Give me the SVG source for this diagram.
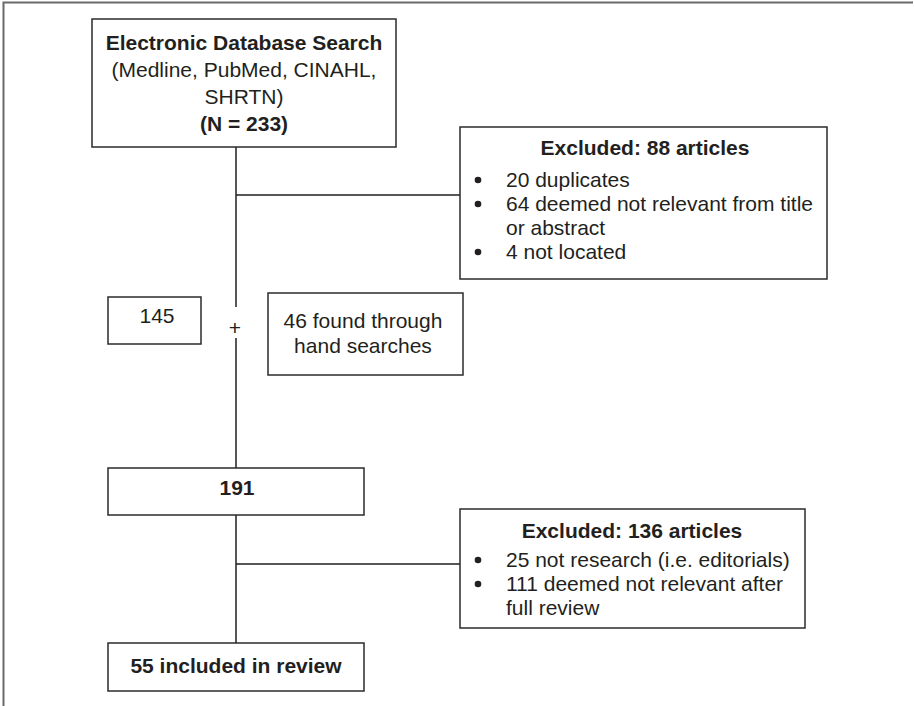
<svg xmlns="http://www.w3.org/2000/svg" width="914" height="706" viewBox="0 0 914 706">
<style>
.box{fill:#fff;stroke:#2b2b2b;stroke-width:1.5}
.ln{fill:none;stroke:#231f20;stroke-width:1.5}
.frame{fill:none;stroke:#6a6a6a;stroke-width:2}
.dot{fill:#231f20}
text{font-family:"Liberation Sans",Arial,sans-serif;font-size:21px;fill:#231f20}
.b{font-weight:bold}
.c{text-anchor:middle}
</style>
<rect width="914" height="706" fill="#fff"/>
<path class="frame" d="M3.5,706 V2.5 H913"/>
<g id="connectors">
<path class="ln" d="M236,147 V307 M236,338 V468 M236,195 H460 M236,515 V643 M236,564 H460"/>
<text class="c" x="235" y="335">+</text>
</g>
<g id="search">
<rect class="box" x="92" y="19" width="304" height="128"/>
<text class="c b" x="244" y="50">Electronic Database Search</text>
<text class="c" x="244" y="77">(Medline, PubMed, CINAHL,</text>
<text class="c" x="244" y="104">SHRTN)</text>
<text class="c b" x="244" y="131">(N = 233)</text>
</g>
<g id="excluded1">
<rect class="box" x="460" y="127" width="367" height="152"/>
<text class="c b" x="645" y="155">Excluded: 88 articles</text>
<circle class="dot" cx="478" cy="180" r="3.3"/><text x="506" y="187">20 duplicates</text>
<circle class="dot" cx="478" cy="204" r="3.3"/><text x="506" y="211">64 deemed not relevant from title</text>
<text x="506" y="235">or abstract</text>
<circle class="dot" cx="478" cy="252" r="3.3"/><text x="506" y="259">4 not located</text>
</g>
<g id="n145">
<rect class="box" x="108" y="297" width="93" height="47"/>
<text class="c" x="157" y="323">145</text>
</g>
<g id="hand">
<rect class="box" x="268" y="293" width="195" height="82"/>
<text class="c" x="363" y="328">46 found through</text>
<text class="c" x="363" y="353">hand searches</text>
</g>
<g id="n191">
<rect class="box" x="108" y="468" width="256" height="47"/>
<text class="c b" x="237" y="495">191</text>
</g>
<g id="excluded2">
<rect class="box" x="460" y="509" width="345" height="119"/>
<text class="c b" x="632" y="538">Excluded: 136 articles</text>
<circle class="dot" cx="478" cy="560" r="3.3"/><text x="506" y="567">25 not research (i.e. editorials)</text>
<circle class="dot" cx="478" cy="584" r="3.3"/><text x="506" y="591">111 deemed not relevant after</text>
<text x="506" y="615">full review</text>
</g>
<g id="included">
<rect class="box" x="108" y="643" width="256" height="48"/>
<text class="c b" x="236" y="673">55 included in review</text>
</g>
</svg>
